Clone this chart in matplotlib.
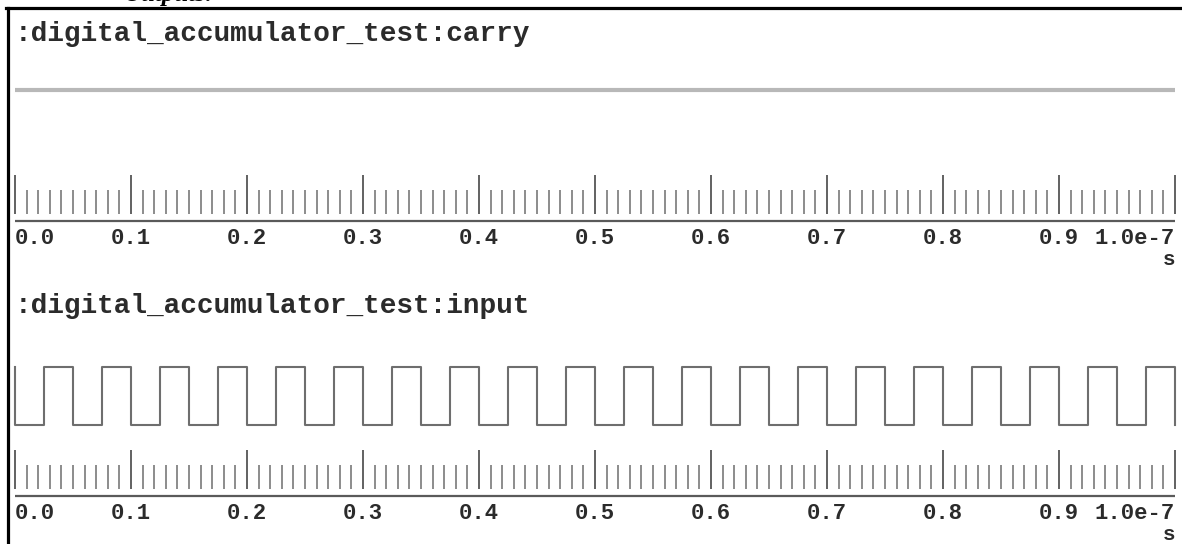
import matplotlib
matplotlib.use('Agg')
import matplotlib.pyplot as plt
from matplotlib.lines import Line2D
import numpy as np

W, H = 1182, 544

# signals, time in ns (axis shown in units of 1e-7 s)
carry_t = [0, 100]
carry_v = [1, 1]

input_t = [0, 0, 2.5, 5, 7.5, 10, 12.5, 15, 17.5, 20, 22.5, 25, 27.5, 30,
           32.5, 35, 37.5, 40, 42.5, 45, 47.5, 50, 52.5, 55, 57.5, 60, 62.5,
           65, 67.5, 70, 72.5, 75, 77.5, 80, 82.5, 85, 87.5, 90, 92.5, 95,
           97.5, 100]
input_v = [1, 0, 1, 0, 1, 0, 1, 0, 1, 0, 1, 0, 1, 0, 1, 0, 1, 0, 1, 0, 1,
           0, 1, 0, 1, 0, 1, 0, 1, 0, 1, 0, 1, 0, 1, 0, 1, 0, 1, 0, 1, 0]

major_ticks = [0, 10, 20, 30, 40, 50, 60, 70, 80, 90, 100]
major_labels = ['0.0', '0.1', '0.2', '0.3', '0.4', '0.5', '0.6', '0.7',
                '0.8', '0.9', '1.0e-7']
unit_label = 's'

titles = [':digital_accumulator_test:carry', ':digital_accumulator_test:input']

plt.rcParams['font.family'] = ['Liberation Mono', 'DejaVu Sans Mono']
TXT = '#2b2b2b'

fig = plt.figure(figsize=(W / 100, H / 100), dpi=100)
fig.patch.set_facecolor('white')


def rect(x0, y0, x1, y1):
    return [x0 / W, 1 - y1 / H, (x1 - x0) / W, (y1 - y0) / H]


X0, X1 = 15, 1175


def signal_axes(top, bottom):
    ax = fig.add_axes(rect(X0, top, X1, bottom))
    ax.set_xlim(0, 100)
    ax.set_ylim(0, 1)
    ax.axis('off')
    return ax


def ruler(top):
    ax = fig.add_axes(rect(X0, top, X1, top + 95))
    ax.set_xlim(0, 100)
    ax.set_ylim(-95, 0)
    ax.axis('off')
    minor = [m for m in np.arange(0, 101, 1) if m not in major_ticks]
    ax.vlines(minor, -15, -39, color='#8c8c8c', lw=1.4, clip_on=False)
    ax.vlines(major_ticks, 0, -39, color='#555555', lw=1.3, clip_on=False)
    ax.hlines(-46, 0, 100, color='#5a5a5a', lw=1.6, clip_on=False)
    for t, lab in zip(major_ticks, major_labels):
        ha = 'center'
        if t == major_ticks[0]:
            ha = 'left'
        elif t == major_ticks[-1]:
            ha = 'right'
        ax.text(t, -69, lab, ha=ha, va='baseline', fontsize=16,
                fontweight='bold', color=TXT, clip_on=False)
    ax.text(100, -90, unit_label, ha='right', va='baseline', fontsize=15,
            fontweight='bold', color=TXT, clip_on=False)


# panel 1: carry
fig.text(15 / W, 1 - 41 / H, titles[0], ha='left', va='baseline',
         fontsize=20, fontweight='bold', color=TXT)
ax1 = signal_axes(90, 148)
ax1.plot(carry_t, carry_v, color='#b8b8b8', lw=3.0, clip_on=False,
         solid_capstyle='butt')
ruler(175)

# panel 2: input
fig.text(15 / W, 1 - 313 / H, titles[1], ha='left', va='baseline',
         fontsize=20, fontweight='bold', color=TXT)
ax2 = signal_axes(367, 425)
ax2.step(input_t, input_v, where='post', color='#6e6e6e', lw=1.5,
         clip_on=False)
ruler(450)

# frame and clipped heading above it
fig.add_artist(Line2D([6 / W, 1], [1 - 7.5 / H, 1 - 7.5 / H],
                      transform=fig.transFigure, color='black', lw=2.3))
fig.add_artist(Line2D([7.5 / W, 7.5 / W], [0, 1 - 7.5 / H],
                      transform=fig.transFigure, color='black', lw=2.3))
fig.text(123 / W, 1 - 1.5 / H, 'Outputs:', ha='left', va='baseline',
         fontsize=18, fontweight='bold', style='italic',
         family='Liberation Serif', color='black')

fig.savefig('out.png', dpi=100, facecolor='white')
